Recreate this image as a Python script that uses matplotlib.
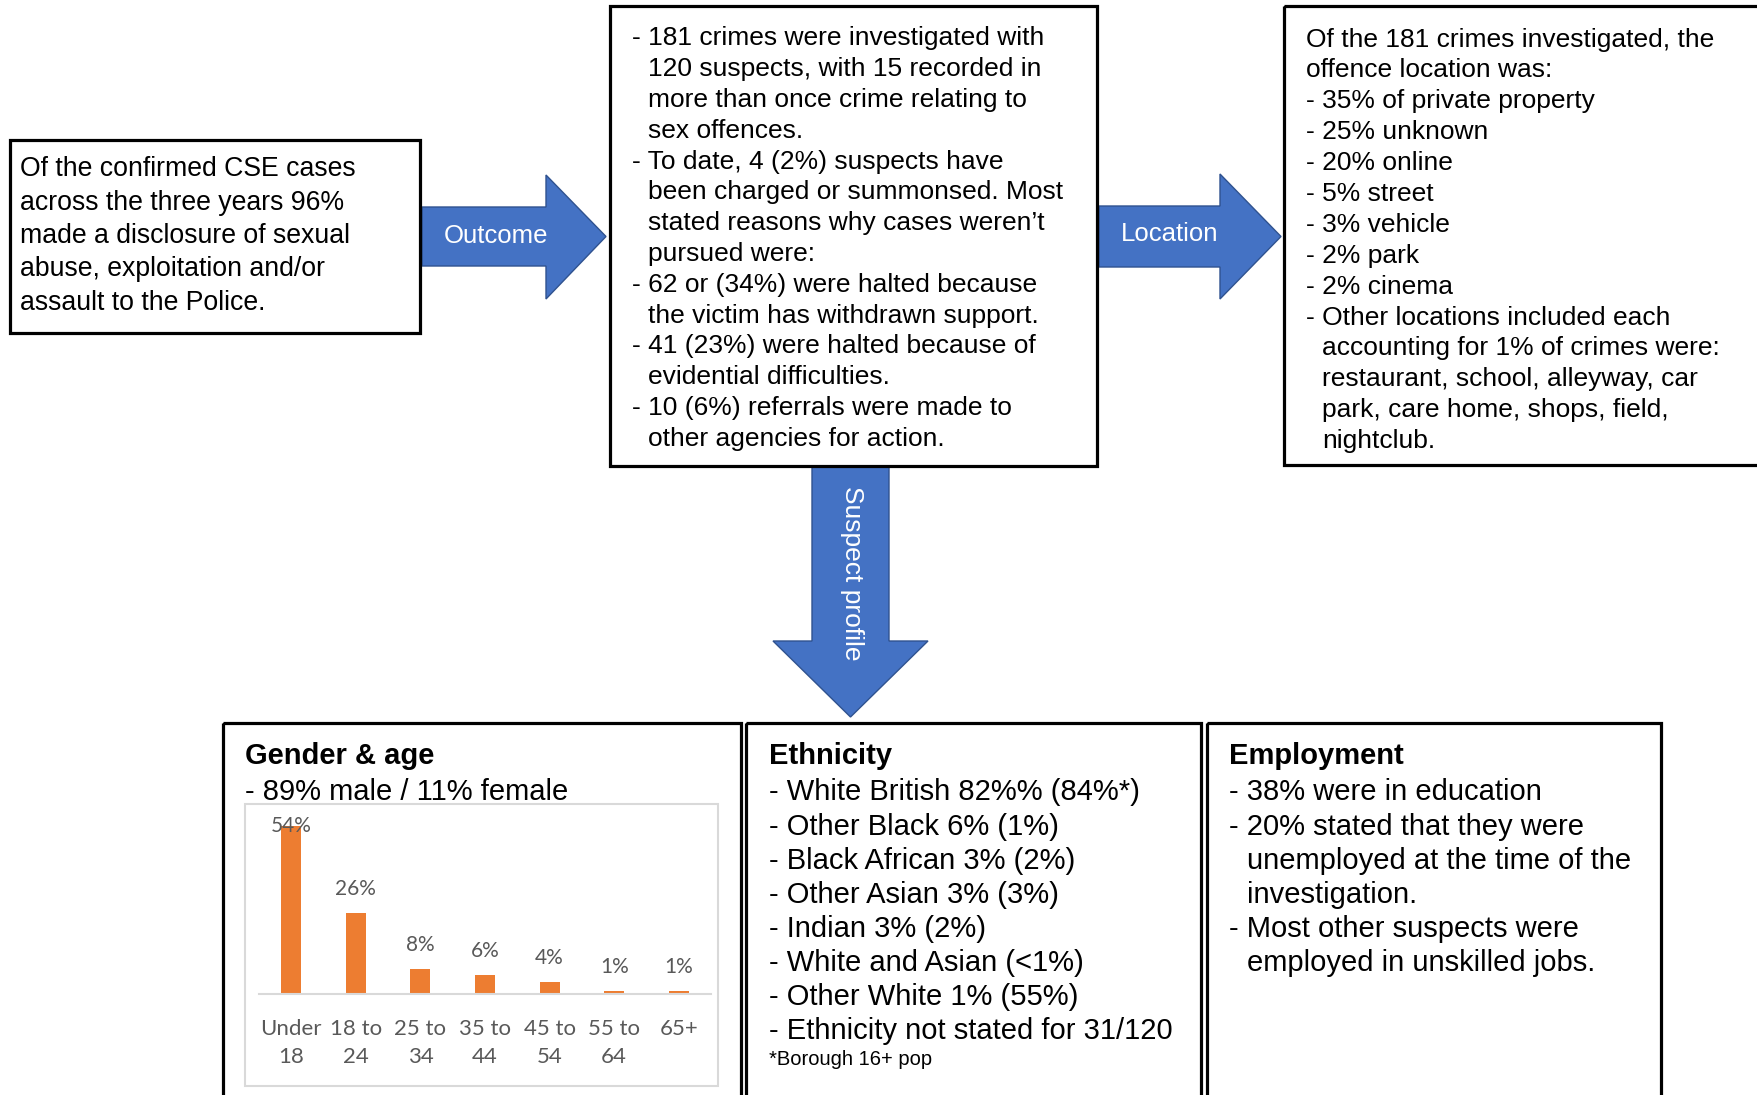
import matplotlib
matplotlib.use("Agg")
import matplotlib.pyplot as plt
from matplotlib.patches import Rectangle, Polygon

# ---------------- data ----------------
age_groups = ["Under\n18", "18 to\n24", "25 to\n34", "35 to\n44", "45 to\n54", "55 to\n64", "65+"]
age_pct = [54, 26, 8, 6, 4, 1, 1]

intro_lines = ["Of the confirmed CSE cases", "across the three years 96%",
               "made a disclosure of sexual", "abuse, exploitation and/or",
               "assault to the Police."]

outcome_lines = [("181 crimes were investigated with", True),
                 ("120 suspects, with 15 recorded in", False),
                 ("more than once crime relating to", False),
                 ("sex offences.", False),
                 ("To date, 4 (2%) suspects have", True),
                 ("been charged or summonsed. Most", False),
                 ("stated reasons why cases weren\u2019t", False),
                 ("pursued were:", False),
                 ("62 or (34%) were halted because", True),
                 ("the victim has withdrawn support.", False),
                 ("41 (23%) were halted because of", True),
                 ("evidential difficulties.", False),
                 ("10 (6%) referrals were made to", True),
                 ("other agencies for action.", False)]

location_lines = [("Of the 181 crimes investigated, the", None),
                  ("offence location was:", None),
                  ("35% of private property", True),
                  ("25% unknown", True),
                  ("20% online", True),
                  ("5% street", True),
                  ("3% vehicle", True),
                  ("2% park", True),
                  ("2% cinema", True),
                  ("Other locations included each", True),
                  ("accounting for 1% of crimes were:", False),
                  ("restaurant, school, alleyway, car", False),
                  ("park, care home, shops, field,", False),
                  ("nightclub.", False)]

gender_line = "89% male / 11% female"

ethnicity_lines = ["White British 82%% (84%*)", "Other Black 6% (1%)",
                   "Black African 3% (2%)", "Other Asian 3% (3%)",
                   "Indian 3% (2%)", "White and Asian (<1%)",
                   "Other White 1% (55%)", "Ethnicity not stated for 31/120"]
ethnicity_note = "*Borough 16+ pop"

employment_lines = [("38% were in education", True),
                    ("20% stated that they were", True),
                    ("unemployed at the time of the", False),
                    ("investigation.", False),
                    ("Most other suspects were", True),
                    ("employed in unskilled jobs.", False)]

# ---------------- styling ----------------
W, H = 1757, 1095
ARIAL = ["Liberation Sans", "DejaVu Sans"]
BLUE = "#4472C4"
BLUE_EDGE = "#2F528F"
ORANGE = "#ED7D31"
GRID = "#D9D9D9"
TICK = "#595959"

fig = plt.figure(figsize=(W / 100, H / 100), dpi=100)
ax = fig.add_axes([0, 0, 1, 1])
ax.set_xlim(0, W)
ax.set_ylim(H, 0)
ax.axis("off")


def box(x0, y0, x1, y1, lw=2.3):
    ax.add_patch(Rectangle((x0, y0), x1 - x0, y1 - y0, fill=False,
                           edgecolor="black", linewidth=lw, zorder=3))


def right_arrow(x0, xh, xt, ys0, ys1, yh0, yh1):
    yc = (ys0 + ys1) / 2
    pts = [(x0, ys0), (xh, ys0), (xh, yh0), (xt, yc), (xh, yh1), (xh, ys1), (x0, ys1)]
    ax.add_patch(Polygon(pts, closed=True, facecolor=BLUE, edgecolor=BLUE_EDGE,
                         linewidth=1.0, zorder=2))


def down_arrow(xs0, xs1, y0, yh, yt, xh0, xh1):
    xc = (xs0 + xs1) / 2
    pts = [(xs0, y0), (xs1, y0), (xs1, yh), (xh1, yh), (xc, yt), (xh0, yh), (xs0, yh)]
    ax.add_patch(Polygon(pts, closed=True, facecolor=BLUE, edgecolor=BLUE_EDGE,
                         linewidth=1.0, zorder=2))


# ---------------- boxes & arrows ----------------
box(10, 140, 420, 333)
box(610, 6, 1097, 466)
box(1284, 6, 1775, 465)
box(223, 723, 741, 1110)
box(746, 723, 1201, 1110)
box(1207, 723, 1661, 1110)

right_arrow(422, 546, 606, 207, 266, 175, 299)
right_arrow(1099, 1220, 1281, 206, 267, 174, 299)
down_arrow(812, 889, 466, 641, 717, 773, 928)

ax.text(496, 236, "Outcome", family=ARIAL, fontsize=18.5, color="white",
        ha="center", va="center", zorder=4)
ax.text(1170, 234, "Location", family=ARIAL, fontsize=18.5, color="white",
        ha="center", va="center", zorder=4)
ax.text(852, 573, "Suspect profile", family=ARIAL, fontsize=19, color="white",
        ha="center", va="center", rotation=270, zorder=4)

# ---------------- texts ----------------
# intro box
for i, t in enumerate(intro_lines):
    ax.text(20, 167 + i * 33.3 + 9.5, t, family=ARIAL, fontsize=19.2,
            ha="left", va="baseline", zorder=4)

# outcome box
for i, (t, bullet) in enumerate(outcome_lines):
    yb = 36 + i * 30.8 + 9.5
    if bullet:
        ax.text(632, yb, "- " + t, family=ARIAL, fontsize=19, ha="left", va="baseline")
    else:
        ax.text(648, yb, t, family=ARIAL, fontsize=19, ha="left", va="baseline")

# location box
for i, (t, bullet) in enumerate(location_lines):
    yb = 37 + i * 30.9 + 9.5
    if bullet is None:
        ax.text(1306, yb, t, family=ARIAL, fontsize=19, ha="left", va="baseline")
    elif bullet:
        ax.text(1306, yb, "- " + t, family=ARIAL, fontsize=19, ha="left", va="baseline")
    else:
        ax.text(1322, yb, t, family=ARIAL, fontsize=19, ha="left", va="baseline")

# bottom boxes
ROW0, ROWD = 790, 34.06
ax.text(245, 753 + 10.5, "Gender & age", family=ARIAL, fontsize=21, weight="bold",
        ha="left", va="baseline")
ax.text(245, ROW0 + 10.5, "- " + gender_line, family=ARIAL, fontsize=21,
        ha="left", va="baseline")

ax.text(769, 753 + 10.5, "Ethnicity", family=ARIAL, fontsize=21, weight="bold",
        ha="left", va="baseline")
for i, t in enumerate(ethnicity_lines):
    ax.text(769, ROW0 + i * ROWD + 10.5, "- " + t, family=ARIAL, fontsize=21,
            ha="left", va="baseline")
ax.text(769, 1058 + 7, ethnicity_note, family=ARIAL, fontsize=14.5,
        ha="left", va="baseline")

ax.text(1229, 753 + 10.5, "Employment", family=ARIAL, fontsize=21, weight="bold",
        ha="left", va="baseline")
for i, (t, bullet) in enumerate(employment_lines):
    yb = ROW0 + i * ROWD + 10.5
    if bullet:
        ax.text(1229, yb, "- " + t, family=ARIAL, fontsize=21, ha="left", va="baseline")
    else:
        ax.text(1247, yb, t, family=ARIAL, fontsize=21, ha="left", va="baseline")

# chart frame (light grey border)
ax.add_patch(Rectangle((245, 804), 718 - 245, 1086 - 804, fill=False,
                       edgecolor=GRID, linewidth=1.5, zorder=1))

# ---------------- bar chart ----------------
x_left, x_right = 259, 711
y_top, y_base = 826, 994
cax = fig.add_axes([x_left / W, 1 - y_base / H, (x_right - x_left) / W, (y_base - y_top) / H])
cax.patch.set_alpha(0)
pos = list(range(len(age_pct)))
cax.bar(pos, age_pct, width=0.31, color=ORANGE, zorder=2)
cax.set_xlim(-0.5, len(age_pct) - 0.5)
cax.set_ylim(0, max(age_pct))
cax.set_yticks([])
cax.set_xticks(pos)
cax.set_xticklabels(age_groups, family=["Lato", "DejaVu Sans"], fontsize=16,
                    color=TICK, linespacing=1.5)
cax.tick_params(axis="x", length=0, pad=18)
for s in ["top", "left", "right"]:
    cax.spines[s].set_visible(False)
cax.spines["bottom"].set_color(GRID)
cax.spines["bottom"].set_linewidth(1.5)
for p, v in zip(pos, age_pct):
    cax.text(p, min(v + 7.7, max(age_pct)), f"{v}%", family=["Lato", "DejaVu Sans"],
             fontsize=15, color=TICK, ha="center", va="center", clip_on=False, zorder=3)

fig.savefig("out.png", dpi=100)
